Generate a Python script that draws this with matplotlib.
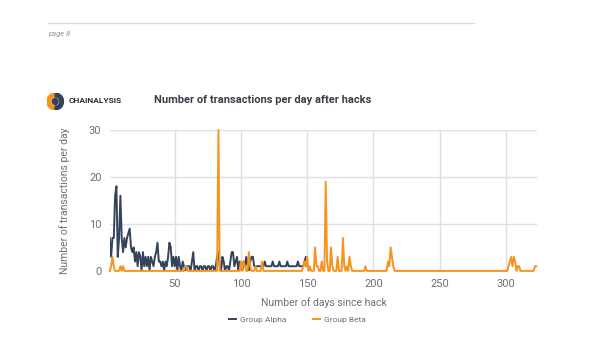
import numpy as np
import matplotlib
matplotlib.use("Agg")
import matplotlib.pyplot as plt
from matplotlib.patches import Wedge, Circle

# daily transaction counts
alpha_vals = [7, 3, 7, 7, 16, 18, 3, 7, 16, 7, 4, 7, 5, 7, 8, 9, 5, 4, 5, 2,
              4, 1, 4, 3, 0, 4, 1, 3, 1, 3, 0, 3, 2, 1, 3, 4, 6, 2, 2, 1,
              2, 0, 2, 1, 3, 6, 5, 1, 3, 1, 3, 0, 3, 1, 0, 2, 1, 0, 1, 1,
              1, 0, 2, 4, 0, 1, 1, 0, 1, 1, 0, 1, 1, 0, 1, 1, 0, 1, 1, 0,
              1, 3, 4, 1, 0, 3, 2, 0, 1, 1, 0, 2, 4, 4, 1, 2, 3, 0, 2, 1,
              0, 2, 1, 3, 1, 0, 2, 3, 3, 1, 1, 1, 1, 1, 1, 1, 1, 2, 1, 1,
              1, 1, 1, 2, 1, 1, 1, 1, 2, 1, 1, 1, 1, 1, 2, 1, 1, 1, 1, 1,
              1, 1, 2, 1, 1, 1, 1, 2, 3, 1]
alpha_days = np.arange(1, len(alpha_vals) + 1)

# days where group beta was non zero (all other days are 0)
beta_days = [2, 3, 4, 9, 11, 58, 59, 83,
             100, 102, 103, 106, 107, 111, 116,
             147, 148, 149, 150, 152, 156, 157, 158, 161, 164, 165,
             168, 169, 173, 177, 178, 180, 182, 183, 194,
             211, 212, 213, 214, 215,
             302, 303, 304, 305, 306, 307, 309, 310, 322, 323]
beta_nz = [1, 3, 1, 1, 1, 1, 1, 30,
           2, 2, 1, 4, 1, 1, 2,
           1, 2, 1, 3, 1, 5, 1, 1, 2, 19, 2,
           5, 1, 3, 7, 1, 1, 3, 1, 1,
           2, 1, 5, 3, 1,
           1, 2, 3, 1, 3, 2, 1, 1, 1, 1]
n_days = 323

beta_all = np.arange(1, n_days + 1)
beta_vals = np.zeros(n_days)
beta_vals[np.array(beta_days) - 1] = beta_nz

x_ticks = [50, 100, 150, 200, 250, 300]
y_ticks = [0, 10, 20, 30]

c_alpha = "#34425a"
c_beta = "#f7931e"
c_text = "#6b7078"
c_grid = "#dcdfe3"

plt.rcParams['font.family'] = ['Roboto', 'DejaVu Sans']

fig = plt.figure(figsize=(6, 3.56), dpi=100)
ax = fig.add_axes([0.183, 0.239, 0.712, 0.396])

ax.plot(alpha_days, alpha_vals, color=c_alpha, lw=1.4, label="Group Alpha")
ax.plot(beta_all, beta_vals, color=c_beta, lw=1.4, label="Group Beta", clip_on=False)

ax.set_xlim(1, 323.5)
ax.set_ylim(0, 30)
ax.set_xticks(x_ticks)
ax.set_yticks(y_ticks)
ax.grid(True, color=c_grid, lw=1)
ax.set_axisbelow(True)
for s in ax.spines.values():
    s.set_visible(False)
ax.tick_params(length=0, labelsize=8, labelcolor=c_text, pad=6)
ax.set_xlabel("Number of days since hack", fontsize=7.5, color=c_text, labelpad=6)
ax.set_ylabel("Number of transactions per day", fontsize=7.5, color=c_text, labelpad=14)

leg = ax.legend(loc="upper center", bbox_to_anchor=(0.44, -0.27), ncol=2, frameon=False,
                fontsize=6, handlelength=0.8, columnspacing=3.2, handletextpad=0.5)
for t in leg.get_texts():
    t.set_color(c_text)

# page header
fig.add_artist(plt.Line2D([0.08, 0.79], [0.935, 0.935], color="#dddddd", lw=1))
fig.text(0.08, 0.905, "page 8", fontsize=5.5, style="italic", color="#999999", va="center")

# logo
lax = fig.add_axes([0.078, 0.69, 0.028, 0.05])
lax.set_xlim(-1, 1)
lax.set_ylim(-1, 1)
lax.set_aspect("equal")
lax.axis("off")
lax.add_patch(Wedge((0, 0), 1, 90, 270, width=0.45, color=c_beta))
lax.add_patch(Wedge((0, 0), 1, 270, 90, width=0.45, color=c_alpha))
lax.add_patch(Circle((0, 0), 0.35, color=c_alpha))
fig.text(0.115, 0.718, "CHAINALYSIS", fontsize=6, fontweight="bold", color="#2b2f36", va="center")

fig.text(0.257, 0.718, "Number of transactions per day after hacks", fontsize=8,
         fontweight="bold", color="#3a3f48", va="center")

fig.savefig("out.png", dpi=100, facecolor="white")
